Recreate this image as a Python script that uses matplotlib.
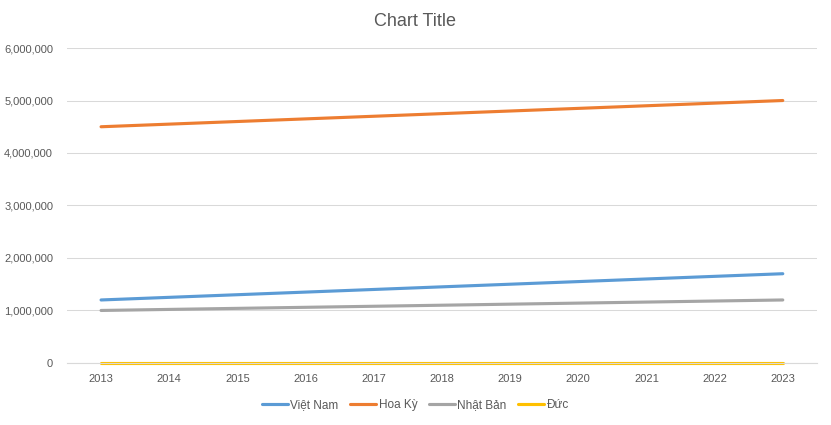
import matplotlib.pyplot as plt
from matplotlib.ticker import FuncFormatter

years = [2013, 2014, 2015, 2016, 2017, 2018, 2019, 2020, 2021, 2022, 2023]
viet_nam = [1200000, 1250000, 1300000, 1350000, 1400000, 1450000, 1500000, 1550000, 1600000, 1650000, 1700000]
hoa_ky = [4500000, 4550000, 4600000, 4650000, 4700000, 4750000, 4800000, 4850000, 4900000, 4950000, 5000000]
nhat_ban = [1000000, 1020000, 1040000, 1060000, 1080000, 1100000, 1120000, 1140000, 1160000, 1180000, 1200000]
duc = [5000, 5000, 5000, 5000, 5000, 5000, 5000, 5000, 5000, 5000, 5000]

plt.rcParams['font.family'] = ['Liberation Sans', 'DejaVu Sans']
txt = '#595959'

fig = plt.figure(figsize=(8.31, 4.25), dpi=100)
ax = fig.add_axes([0.0806, 0.146, 0.9024, 0.741])

ax.plot(years, viet_nam, color='#5b9bd5', lw=2.25, label='Việt Nam', solid_capstyle='round')
ax.plot(years, hoa_ky, color='#ed7d31', lw=2.25, label='Hoa Kỳ', solid_capstyle='round')
ax.plot(years, nhat_ban, color='#a5a5a5', lw=2.25, label='Nhật Bản', solid_capstyle='round')
ax.plot(years, duc, color='#ffc000', lw=2.25, label='Đức', solid_capstyle='round', clip_on=False)

ax.set_xlim(2012.5, 2023.5)
ax.set_ylim(0, 6000000)
ax.set_xticks(years)
ax.set_yticks(range(0, 6000001, 1000000))
ax.yaxis.set_major_formatter(FuncFormatter(lambda v, p: f'{int(v):,}'))
ax.grid(axis='y', color='#d9d9d9', lw=0.75)
ax.set_axisbelow(True)
for s in ['top', 'right', 'left']:
    ax.spines[s].set_visible(False)
ax.spines['bottom'].set_color('#d9d9d9')
ax.tick_params(length=0, labelsize=8, labelcolor=txt, pad=8)
ax.tick_params(axis='y', pad=10)

fig.text(0.5, 0.95, 'Chart Title', ha='center', va='center', fontsize=13, color=txt)
fig.legend(loc='center', bbox_to_anchor=(0.5, 0.047), ncol=4, frameon=False,
           fontsize=8.5, labelcolor=txt, handlelength=2.2, columnspacing=1.0, handletextpad=0.2)

fig.savefig('out.png', dpi=100)
